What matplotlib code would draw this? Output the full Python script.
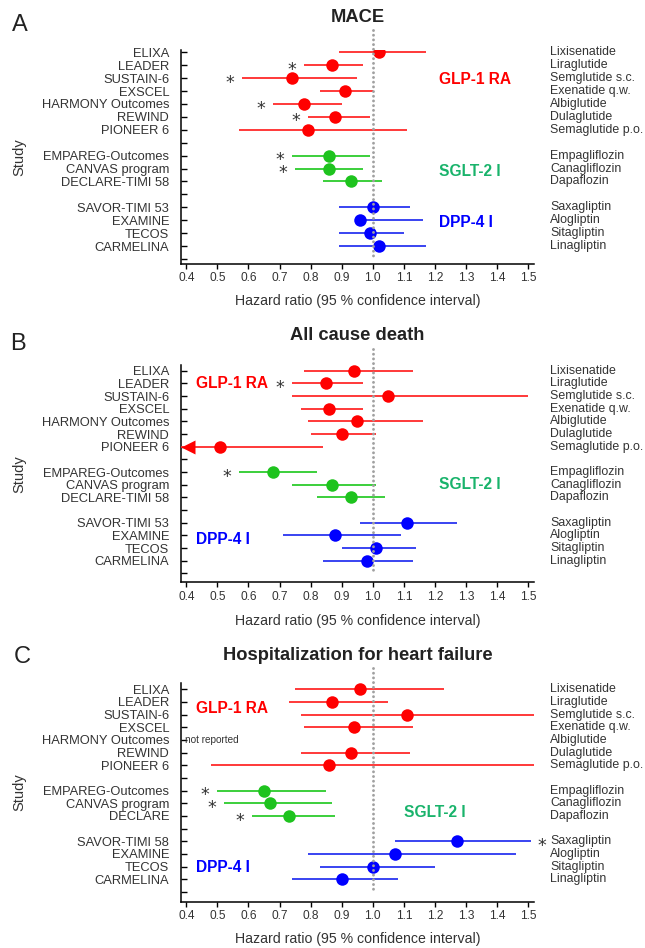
import matplotlib
matplotlib.use("Agg")
import matplotlib.pyplot as plt
import matplotlib.transforms as mtransforms
import numpy as np

plt.rcParams['font.family'] = ['Liberation Sans', 'DejaVu Sans']

# ---------------- data ----------------
studies = ["ELIXA", "LEADER", "SUSTAIN-6", "EXSCEL", "HARMONY Outcomes", "REWIND",
           "PIONEER 6", "EMPAREG-Outcomes", "CANVAS program", "DECLARE-TIMI 58",
           "SAVOR-TIMI 53", "EXAMINE", "TECOS", "CARMELINA"]
studies_hf = ["ELIXA", "LEADER", "SUSTAIN-6", "EXSCEL", "HARMONY Outcomes", "REWIND",
              "PIONEER 6", "EMPAREG-Outcomes", "CANVAS program", "DECLARE",
              "SAVOR-TIMI 58", "EXAMINE", "TECOS", "CARMELINA"]
drugs = ["Lixisenatide", "Liraglutide", "Semglutide s.c.", "Exenatide q.w.", "Albiglutide",
         "Dulaglutide", "Semaglutide p.o.", "Empagliflozin", "Canagliflozin", "Dapaflozin",
         "Saxagliptin", "Alogliptin", "Sitagliptin", "Linagliptin"]
drug_class = ["GLP-1 RA"] * 7 + ["SGLT-2 I"] * 3 + ["DPP-4 I"] * 4
class_names = ["GLP-1 RA", "SGLT-2 I", "DPP-4 I"]

nan = np.nan
# MACE
mace_hr = [1.02, 0.87, 0.74, 0.91, 0.78, 0.88, 0.79, 0.86, 0.86, 0.93, 1.00, 0.96, 0.99, 1.02]
mace_lo = [0.89, 0.78, 0.58, 0.83, 0.68, 0.79, 0.57, 0.74, 0.75, 0.84, 0.89, nan, 0.89, 0.89]
mace_hi = [1.17, 0.97, 0.95, 1.00, 0.90, 0.99, 1.11, 0.99, 0.97, 1.03, 1.12, 1.16, 1.10, 1.17]
mace_sig = [0, 1, 1, 0, 1, 1, 0, 1, 1, 0, 0, 0, 0, 0]
# All cause death
death_hr = [0.94, 0.85, 1.05, 0.86, 0.95, 0.90, 0.51, 0.68, 0.87, 0.93, 1.11, 0.88, 1.01, 0.98]
death_lo = [0.78, 0.74, 0.74, 0.77, 0.79, 0.80, 0.31, 0.57, 0.74, 0.82, 0.96, 0.71, 0.90, 0.84]
death_hi = [1.13, 0.97, 1.50, 0.97, 1.16, 1.01, 0.84, 0.82, 1.01, 1.04, 1.27, 1.09, 1.14, 1.13]
death_sig = [0, 1, 0, 0, 0, 0, 0, 1, 0, 0, 0, 0, 0, 0]
# Hospitalization for heart failure (HARMONY: not reported)
hf_hr = [0.96, 0.87, 1.11, 0.94, nan, 0.93, 0.86, 0.65, 0.67, 0.73, 1.27, 1.07, 1.00, 0.90]
hf_lo = [0.75, 0.73, 0.77, 0.78, nan, 0.77, 0.48, 0.50, 0.52, 0.61, 1.07, 0.79, 0.83, 0.74]
hf_hi = [1.23, 1.05, 1.61, 1.13, nan, 1.12, 1.55, 0.85, 0.87, 0.88, 1.51, 1.46, 1.20, 1.08]
hf_sig = [0, 0, 0, 0, 0, 0, 0, 1, 1, 1, 1, 0, 0, 0]

xticks = [0.4, 0.5, 0.6, 0.7, 0.8, 0.9, 1.0, 1.1, 1.2, 1.3, 1.4, 1.5]

# ---------------- styling ----------------
point_col = {"GLP-1 RA": "#ff0000", "SGLT-2 I": "#1ec31e", "DPP-4 I": "#0000ff"}
line_col = {"GLP-1 RA": "#ff2a2a", "SGLT-2 I": "#2ccc2c", "DPP-4 I": "#2a35f0"}
label_col = {"GLP-1 RA": "#ff0000", "SGLT-2 I": "#19b36b", "DPP-4 I": "#0000ff"}
text_col = "#333333"

W, H = 645, 948
fig = plt.figure(figsize=(W / 100, H / 100), dpi=100)

rows = [0, 1, 2, 3, 4, 5, 6, 8, 9, 10, 12, 13, 14, 15]
XL = (0.383, 1.52)
ax_left_px, ax_right_px = 181, 534.4

panels = [
    dict(letter="A", title="MACE", hr=mace_hr, lo=mace_lo, hi=mace_hi, sig=mace_sig,
         names=studies, top=50, bottom=264, ylim=(16.39, -0.18),
         title_y=18, letter_xy=(20, 25), xlabel_y=301,
         groups={"GLP-1 RA": (1.212, 2.1), "SGLT-2 I": (1.212, 9.2), "DPP-4 I": (1.212, 13.2)},
         sig_side=[], not_reported=None),
    dict(letter="B", title="All cause death", hr=death_hr, lo=death_lo, hi=death_hi, sig=death_sig,
         names=studies, top=365, bottom=582.3, ylim=(16.7, -0.45),
         title_y=335, letter_xy=(18, 344), xlabel_y=620.7,
         groups={"GLP-1 RA": (0.43, 1.0), "SGLT-2 I": (1.212, 9.0), "DPP-4 I": (0.43, 13.3)},
         sig_side=[], not_reported=None),
    dict(letter="C", title="Hospitalization for heart failure", hr=hf_hr, lo=hf_lo, hi=hf_hi,
         sig=hf_sig, names=studies_hf, top=683, bottom=901.7, ylim=(16.77, -0.5),
         title_y=656, letter_xy=(22, 657), xlabel_y=939,
         groups={"GLP-1 RA": (0.43, 1.5), "SGLT-2 I": (1.101, 9.7), "DPP-4 I": (0.43, 14.1)},
         sig_side=["SAVOR-TIMI 58"], not_reported=4),
]

for p in panels:
    ax = fig.add_axes([ax_left_px / W, 1 - p["bottom"] / H,
                       (ax_right_px - ax_left_px) / W, (p["bottom"] - p["top"]) / H])
    ax.set_xlim(*XL)
    ax.set_ylim(*p["ylim"])
    for s in ["top", "right"]:
        ax.spines[s].set_visible(False)
    for s in ["left", "bottom"]:
        ax.spines[s].set_linewidth(1.1)
        ax.spines[s].set_color("black")

    ax.set_yticks(range(17))
    ylabels = [""] * 17
    for r, n in zip(rows, p["names"]):
        ylabels[r] = n
    ax.set_yticklabels(ylabels, fontsize=9.3, color=text_col)
    ax.tick_params(axis="y", direction="in", length=4, width=1, pad=8.5)
    ax.set_xticks(xticks)
    ax.set_xticklabels([f"{v:.1f}" for v in xticks], fontsize=8.6, color=text_col)
    ax.tick_params(axis="x", direction="out", length=3.5, width=1, pad=2.5)

    # reference line
    ax.plot([1.0, 1.0], [-1.7, 16], color="#a0a0a0", lw=2.1,
            linestyle=(0, (0.01, 1.6)), dash_capstyle="round", clip_on=False, zorder=10)

    for i, r in enumerate(rows):
        hr, lo, hi = p["hr"][i], p["lo"][i], p["hi"][i]
        cls = drug_class[i]
        if np.isnan(hr):
            continue
        lo_draw = hr if np.isnan(lo) else lo
        ax.plot([lo_draw, hi], [r, r], color=line_col[cls], lw=1.3, zorder=3,
                solid_capstyle="butt")
        ax.plot([hr], [r], "o", color=point_col[cls], ms=9, mec="none", zorder=4)
        if lo < XL[0]:
            ax.plot([0.405], [r], marker="<", color=point_col[cls], ms=10, mec="none",
                    clip_on=False, zorder=5)
        if p["sig"][i]:
            if p["names"][i] in p["sig_side"]:
                ax.annotate(r"$*$", xy=(min(hi, XL[1]), r), xytext=(7.5, -2.2),
                            textcoords="offset points", ha="center", va="center",
                            fontsize=12.5, color="#333333", annotation_clip=False)
            else:
                ax.annotate(r"$*$", xy=(lo, r), xytext=(-8.5, -2.2),
                            textcoords="offset points", ha="center", va="center",
                            fontsize=12.5, color="#333333")

    if p["not_reported"] is not None:
        ax.text(XL[0] + 0.013, p["not_reported"], "not reported", fontsize=7.2,
                color=text_col, ha="left", va="center")

    for cname, (gx, gy) in p["groups"].items():
        ax.text(gx, gy, cname, color=label_col[cname], fontsize=11.2, fontweight="bold",
                ha="left", va="center")

    trans = mtransforms.blended_transform_factory(ax.transAxes, ax.transData)
    xr = (550 - ax_left_px) / (ax_right_px - ax_left_px)
    for r, d in zip(rows, drugs):
        ax.text(xr, r, d, transform=trans, fontsize=8.9, color=text_col,
                ha="left", va="center")

    fig.text(357.5 / W, 1 - p["title_y"] / H, p["title"], fontsize=13.2,
             fontweight="bold", color="#222222", ha="center", va="center")
    fig.text(p["letter_xy"][0] / W, 1 - p["letter_xy"][1] / H, p["letter"], fontsize=17,
             color="#222222", ha="center", va="center")
    fig.text(357.5 / W, 1 - p["xlabel_y"] / H, "Hazard ratio (95 % confidence interval)",
             fontsize=10.2, color=text_col, ha="center", va="center")
    fig.text(19 / W, 1 - (p["top"] + p["bottom"]) / 2 / H, "Study", fontsize=10.5,
             color=text_col, ha="center", va="center", rotation=90)

fig.savefig("out.png", dpi=100, facecolor="white")
